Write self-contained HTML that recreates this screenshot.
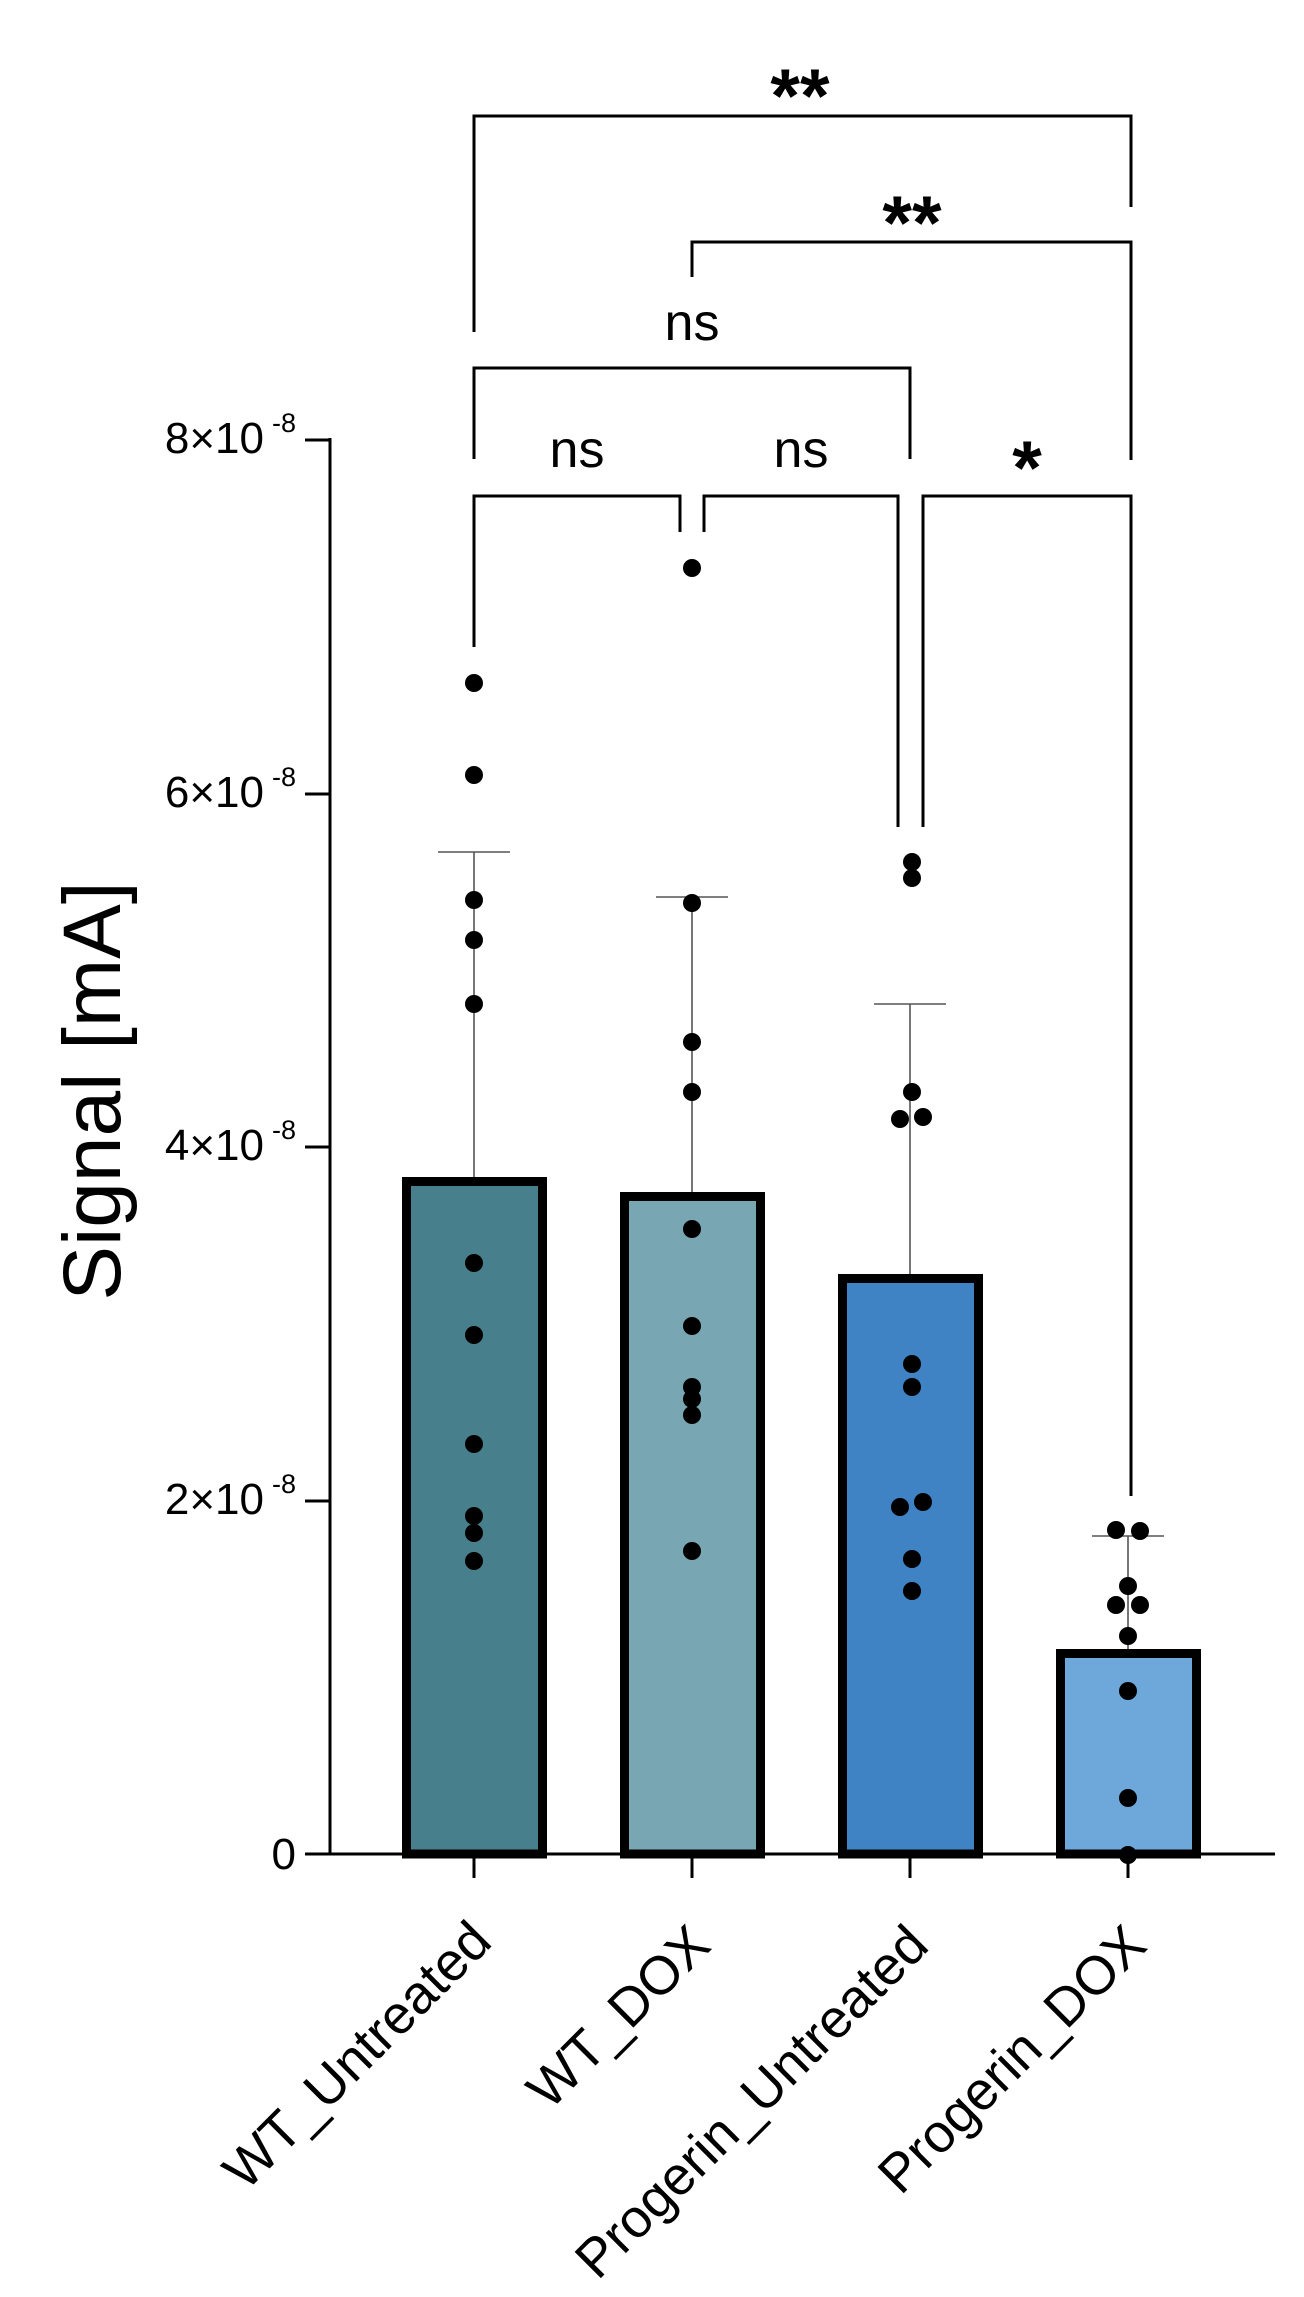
<!DOCTYPE html>
<html><head><meta charset="utf-8"><style>html,body{margin:0;padding:0;background:#fff}svg{display:block}</style></head>
<body>
<svg width="1304" height="2297" viewBox="0 0 1304 2297" xmlns="http://www.w3.org/2000/svg" font-family="Liberation Sans, sans-serif">
<rect width="1304" height="2297" fill="#fff"/>
<g stroke="#000" stroke-width="9">
<rect x="406.5" y="1181.5" width="136" height="672.5" fill="#487f8c"/>
<rect x="624.5" y="1196.5" width="136" height="657.5" fill="#78a6b2"/>
<rect x="842.5" y="1278.5" width="136" height="575.5" fill="#3f83c5"/>
<rect x="1060.5" y="1653.5" width="136" height="200.5" fill="#6ea8db"/>
</g>
<g stroke="#555" stroke-width="1.6">
<line x1="474" y1="1177" x2="474" y2="852"/><line x1="438" y1="852" x2="510" y2="852"/>
<line x1="692" y1="1192" x2="692" y2="897"/><line x1="656" y1="897" x2="728" y2="897"/>
<line x1="910" y1="1274" x2="910" y2="1004"/><line x1="874" y1="1004" x2="946" y2="1004"/>
<line x1="1128" y1="1649" x2="1128" y2="1536"/><line x1="1092" y1="1536" x2="1164" y2="1536"/>
</g>
<g stroke="#000" stroke-width="3" fill="none">
<line x1="330" y1="438" x2="330" y2="1855.5"/>
<line x1="305" y1="1854" x2="1275" y2="1854"/>
<line x1="305" y1="440" x2="330" y2="440"/>
<line x1="305" y1="794" x2="330" y2="794"/>
<line x1="305" y1="1147" x2="330" y2="1147"/>
<line x1="305" y1="1501" x2="330" y2="1501"/>
<line x1="474" y1="1854" x2="474" y2="1878"/>
<line x1="692" y1="1854" x2="692" y2="1878"/>
<line x1="910" y1="1854" x2="910" y2="1878"/>
<line x1="1128" y1="1854" x2="1128" y2="1878"/>
</g>
<g fill="#000">
<circle cx="474" cy="683" r="9"/><circle cx="474" cy="775" r="9"/><circle cx="474" cy="900" r="9"/><circle cx="474" cy="940" r="9"/><circle cx="474" cy="1004" r="9"/><circle cx="474" cy="1263" r="9"/><circle cx="474" cy="1335" r="9"/><circle cx="474" cy="1444" r="9"/><circle cx="474" cy="1516" r="9"/><circle cx="474" cy="1533" r="9"/><circle cx="474" cy="1561" r="9"/>
<circle cx="692" cy="568" r="9"/><circle cx="692" cy="903" r="9"/><circle cx="692" cy="1042" r="9"/><circle cx="692" cy="1092" r="9"/><circle cx="692" cy="1229" r="9"/><circle cx="692" cy="1326" r="9"/><circle cx="692" cy="1387" r="9"/><circle cx="692" cy="1399" r="9"/><circle cx="692" cy="1415" r="9"/><circle cx="692" cy="1551" r="9"/>
<circle cx="912" cy="862" r="9"/><circle cx="912" cy="878" r="9"/><circle cx="912" cy="1092" r="9"/><circle cx="900" cy="1119" r="9"/><circle cx="923" cy="1117" r="9"/><circle cx="912" cy="1364" r="9"/><circle cx="912" cy="1387" r="9"/><circle cx="923" cy="1502" r="9"/><circle cx="900" cy="1507" r="9"/><circle cx="912" cy="1559" r="9"/><circle cx="912" cy="1591" r="9"/>
<circle cx="1116" cy="1530" r="9"/><circle cx="1140" cy="1531" r="9"/><circle cx="1128" cy="1586" r="9"/><circle cx="1116" cy="1605" r="9"/><circle cx="1140" cy="1605" r="9"/><circle cx="1128" cy="1636" r="9"/><circle cx="1128" cy="1691" r="9"/><circle cx="1128" cy="1798" r="9"/><circle cx="1128" cy="1855" r="9"/>
</g>
<g stroke="#000" stroke-width="3" fill="none">
<polyline points="474,332 474,116 1131,116 1131,207"/>
<polyline points="692,277 692,242 1131,242 1131,460"/>
<polyline points="474,459 474,368 910,368 910,459"/>
<polyline points="474,647 474,496 680,496 680,532"/>
<polyline points="704,532 704,496 898,496 898,827"/>
<polyline points="923,827 923,496 1131,496 1131,1496"/>
</g>
<g font-family="Liberation Sans, sans-serif" text-anchor="middle" fill="#000">
<text x="800" y="122" font-size="76" font-weight="bold">**</text>
<text x="912" y="249" font-size="76" font-weight="bold">**</text>
<text x="1027" y="494" font-size="76" font-weight="bold">*</text>
<text x="692" y="340" font-size="52">ns</text>
<text x="577" y="467" font-size="52">ns</text>
<text x="801" y="467" font-size="52">ns</text>
</g>
<g font-family="Liberation Sans, sans-serif" fill="#000">
<text x="264" y="453" font-size="44" text-anchor="end">8×10</text><text x="272" y="432" font-size="27">-8</text>
<text x="264" y="807" font-size="44" text-anchor="end">6×10</text><text x="272" y="786" font-size="27">-8</text>
<text x="264" y="1160" font-size="44" text-anchor="end">4×10</text><text x="272" y="1139" font-size="27">-8</text>
<text x="264" y="1514" font-size="44" text-anchor="end">2×10</text><text x="272" y="1493" font-size="27">-8</text>
<text x="296" y="1869" font-size="44" text-anchor="end">0</text>
</g>
<text transform="translate(120,1091) rotate(-90)" font-family="Liberation Sans, sans-serif" font-size="82" text-anchor="middle" fill="#000">Signal [mA]</text>
<g font-family="Liberation Sans, sans-serif" font-size="54" text-anchor="end" fill="#000">
<text transform="translate(494,1944) rotate(-45)">WT_Untreated</text>
<text transform="translate(713,1948) rotate(-45)">WT_DOX</text>
<text transform="translate(931,1948) rotate(-45)">Progerin_Untreated</text>
<text transform="translate(1149,1948) rotate(-45)">Progerin_DOX</text>
</g>
</svg>
</body></html>
